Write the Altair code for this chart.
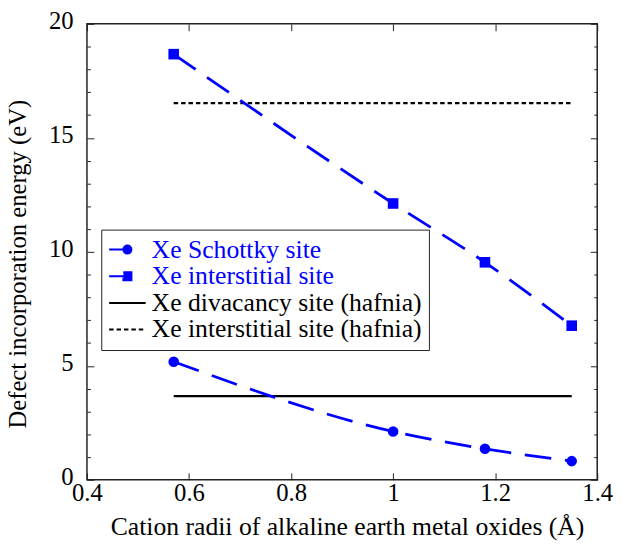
import altair as alt
import pandas as pd

# ---------------- data ----------------
radii = [0.57, 1.00, 1.18, 1.35]
schottky = [5.18, 2.12, 1.36, 0.82]
interstitial = [18.67, 12.12, 9.54, 6.76]
hafnia_x = [0.57, 1.35]
divacancy_hafnia = [3.67, 3.67]
interstitial_hafnia = [16.52, 16.52]

series_names = [
    "Xe Schottky site",
    "Xe interstitial site",
    "Xe divacancy site (hafnia)",
    "Xe interstitial site (hafnia)",
]
series_colors = ["#0000ff", "#0000ff", "#000000", "#000000"]
series_dashes = [[27, 14], [27, 14], [1, 0], [4.5, 3]]
marker_shapes = ["circle", "square"]

x_ticks = [0.4, 0.6, 0.8, 1.0, 1.2, 1.4]
y_major = [0, 5, 10, 15, 20]
y_minor = [1, 2, 3, 4, 6, 7, 8, 9, 11, 12, 13, 14, 16, 17, 18, 19]

rows = []
for xv, yv in zip(radii, schottky):
    rows.append({"x": xv, "y": yv, "series": series_names[0]})
for xv, yv in zip(radii, interstitial):
    rows.append({"x": xv, "y": yv, "series": series_names[1]})
for xv, yv in zip(hafnia_x, divacancy_hafnia):
    rows.append({"x": xv, "y": yv, "series": series_names[2]})
for xv, yv in zip(hafnia_x, interstitial_hafnia):
    rows.append({"x": xv, "y": yv, "series": series_names[3]})
df = pd.DataFrame(rows)
blue = df[df["series"].isin(series_names[:2])]
black = df[df["series"].isin(series_names[2:])]

# ---------------- style ----------------
W, H = 517, 462
FONT = "Liberation Serif, Times New Roman, DejaVu Serif, serif"
FRAME = "#222222"

xs = alt.Scale(domain=[0.4, 1.4], nice=False, zero=False)
ys = alt.Scale(domain=[0, 20], nice=False, zero=False)


def tick_axis(orient, values, size, offset):
    return alt.Axis(
        orient=orient, offset=offset, values=values, labels=False,
        domain=False, grid=False, ticks=True, tickSize=size,
        tickColor=FRAME, tickWidth=1, title=None,
    )


main_x = alt.Axis(
    orient="bottom", values=x_ticks, format=".1~f", ticks=False, domain=False,
    grid=False, labelFont=FONT, labelFontSize=25, labelColor="black",
    labelPadding=1, labelFlush=False, labelOverlap=False,
    title="Cation radii of alkaline earth metal oxides (Å)",
    titleFont=FONT, titleFontSize=26, titleFontWeight="normal",
    titleColor="black", titleX=263.5, titleY=55.6,
    titleBaseline="alphabetic", titleAlign="center",
)
main_y = alt.Axis(
    orient="left", values=y_major, ticks=False, domain=False, grid=False,
    labelFont=FONT, labelFontSize=25, labelColor="black", labelPadding=14,
    labelFlush=False, labelOverlap=False, labelOffset=-3,
    title="Defect incorporation energy (eV)",
    titleFont=FONT, titleFontSize=25, titleFontWeight="normal",
    titleColor="black", titleX=-62.5, titleY=243, titleAngle=270,
    titleBaseline="alphabetic", titleAlign="center",
)

sym_expr = (
    "datum.value == 'Xe Schottky site' ? "
    "'M-1,0H0M0.22,0A0.22,0.22,0,1,1,-0.22,0A0.22,0.22,0,1,1,0.22,0Z' : "
    "datum.value == 'Xe interstitial site' ? "
    "'M-1,0H0M-0.22,-0.22H0.22V0.22H-0.22Z' : 'stroke'"
)
fill_expr = "indexof(['Xe Schottky site','Xe interstitial site'], datum.value) >= 0 ? '#0000ff' : 'transparent'"
dash_expr = "datum.value == 'Xe interstitial site (hafnia)' ? [4.5, 3] : [1, 0]"
label_expr = "indexof(['Xe Schottky site','Xe interstitial site'], datum.value) >= 0 ? '#0000ff' : '#000000'"

legend = alt.Legend(
    orient="none", legendX=14.5, legendY=208.5, title=None,
    direction="vertical",
    symbolType={"expr": sym_expr}, symbolSize=1369, symbolStrokeWidth=2,
    symbolFillColor={"expr": fill_expr}, symbolDash={"expr": dash_expr},
    labelColor={"expr": label_expr}, labelFont=FONT, labelFontSize=26,
    labelOffset=5, labelLimit=500, clipHeight=26.5, rowPadding=0,
    padding=7, strokeColor=FRAME, fillColor="white",
)

color_scale = alt.Scale(domain=series_names, range=series_colors)
dash_scale = alt.Scale(domain=series_names, range=series_dashes)
color_enc = alt.Color("series:N", scale=color_scale, legend=legend)

lines_blue = alt.Chart(blue).mark_line(strokeWidth=2.8, interpolate="monotone").encode(
    x=alt.X("x:Q", scale=xs, axis=main_x),
    y=alt.Y("y:Q", scale=ys, axis=main_y),
    color=color_enc,
    strokeDash=alt.StrokeDash("series:N", scale=dash_scale, legend=None),
)

lines_black = alt.Chart(black).mark_line(strokeWidth=2.2).encode(
    x=alt.X("x:Q", scale=xs, axis=tick_axis("top", x_ticks, 7, -H)),
    y=alt.Y("y:Q", scale=ys, axis=tick_axis("right", y_major, 7, -W)),
    color=color_enc,
    strokeDash=alt.StrokeDash("series:N", scale=dash_scale, legend=None),
)

points = alt.Chart(blue).mark_point(filled=True, opacity=1, size=115).encode(
    x=alt.X("x:Q", scale=xs, axis=tick_axis("bottom", x_ticks, 7, -H)),
    y=alt.Y("y:Q", scale=ys, axis=tick_axis("left", y_major, 7, -W)),
    color=color_enc,
    shape=alt.Shape("series:N", scale=alt.Scale(domain=series_names[:2], range=marker_shapes), legend=None),
)

minor_a = alt.Chart(blue).mark_point(opacity=0).encode(
    x=alt.X("x:Q", scale=xs, axis=None),
    y=alt.Y("y:Q", scale=ys, axis=tick_axis("right", y_minor, 3.5, -W)),
)
minor_b = alt.Chart(blue).mark_point(opacity=0).encode(
    x=alt.X("x:Q", scale=xs, axis=None),
    y=alt.Y("y:Q", scale=ys, axis=tick_axis("left", y_minor, 3.5, -W)),
)

chart = (
    alt.layer(lines_black, lines_blue, points, minor_a, minor_b)
    .resolve_axis(x="independent", y="independent")
    .properties(
        width=W, height=H,
        autosize=alt.AutoSizeParams(type="none"),
        padding={"left": 80, "top": 12.5, "right": 17, "bottom": 62.5},
        background="white",
    )
    .configure_view(stroke=FRAME, strokeWidth=1.5)
)

chart.save("out.html", embed_options={"renderer": "svg", "actions": False})
